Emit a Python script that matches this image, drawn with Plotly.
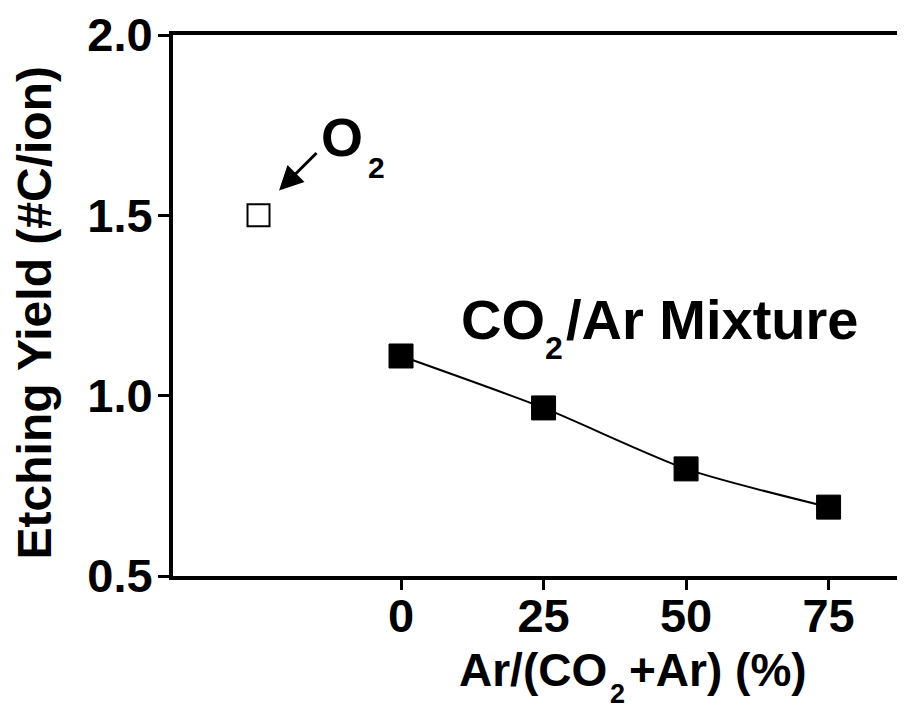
import plotly.graph_objects as go

# Etching yield data
ar_fraction = [0, 25, 50, 75]          # Ar/(CO2+Ar) in %
co2_ar_yield = [1.11, 0.966, 0.797, 0.691]
o2_position = [-25]
o2_yield = [1.5]

x_ticks = [0, 25, 50, 75]
y_ticks = [0.5, 1.0, 1.5, 2.0]

W, H = 905, 708
L, R, T, B = 173, 8, 30, 132
PW, PH = W - L - R, H - T - B

FONT = "Liberation Sans, Arial, sans-serif"


def px(xp):
    return (xp - L) / PW


def py(yp):
    return (H - B - yp) / PH


fig = go.Figure()

fig.add_trace(go.Scatter(
    x=ar_fraction, y=co2_ar_yield, mode="lines+markers",
    line=dict(color="black", width=2, shape="spline", smoothing=0.7),
    marker=dict(symbol="square", size=24, color="black",
                line=dict(color="black", width=1)),
    showlegend=False, cliponaxis=False,
))

fig.add_trace(go.Scatter(
    x=o2_position, y=o2_yield, mode="markers",
    marker=dict(symbol="square", size=22, color="white",
                line=dict(color="black", width=2)),
    showlegend=False, cliponaxis=False,
))


def label(text, x, y, size, xanchor="left", angle=0):
    fig.add_annotation(
        text=f"<b>{text}</b>", x=px(x), y=py(y), xref="paper", yref="paper",
        xanchor=xanchor, yanchor="middle", showarrow=False, textangle=angle,
        font=dict(family=FONT, size=size, color="black"),
    )


# "CO2/Ar Mixture" label
label("CO", 459, 337 - 0.3465 * 56, 56)
label("2", 543, 357 - 0.3465 * 32, 32)
label("/Ar Mixture", 564, 337 - 0.3465 * 56, 56)

# "O2" label with arrow
label("O", 319, 152 - 0.3465 * 54, 54)
label("2", 366, 174 - 0.3465 * 30, 30)
fig.add_annotation(
    x=-21.4, y=1.569, xref="x", yref="y", text="", showarrow=True,
    ax=39, ay=-39, arrowhead=2, arrowsize=1.6, arrowwidth=3, arrowcolor="black",
)

# Axis titles
label("Ar/(CO", 609, 687 - 0.3465 * 46, 46, xanchor="right")
label("2", 608, 704 - 0.3465 * 27, 27)
label("+Ar) (%)", 627, 687 - 0.3465 * 46, 46)
label("Etching Yield (#C/ion)", 34, 311, 48, xanchor="center", angle=-90)

tick_font = dict(family=FONT, size=47, color="black", weight="bold")

fig.update_xaxes(
    range=[-40, 87], tickvals=x_ticks, ticks="outside", ticklen=10, tickwidth=3,
    tickcolor="black", showline=True, linewidth=4, linecolor="black",
    mirror=True, showgrid=False, zeroline=False, ticklabelstandoff=-14,
    tickfont=tick_font,
)
fig.update_yaxes(
    range=[0.5, 2.0], tickvals=y_ticks, tickformat=".1f", ticks="outside",
    ticklen=11, tickwidth=3, tickcolor="black", showline=True, linewidth=4,
    linecolor="black", showgrid=False, zeroline=False, ticklabelstandoff=-4,
    tickfont=tick_font,
)

fig.update_layout(
    width=W, height=H, margin=dict(l=L, r=R, t=T, b=B),
    plot_bgcolor="white", paper_bgcolor="white",
    font=dict(family=FONT, color="black"),
)

fig.write_html("out.html")
